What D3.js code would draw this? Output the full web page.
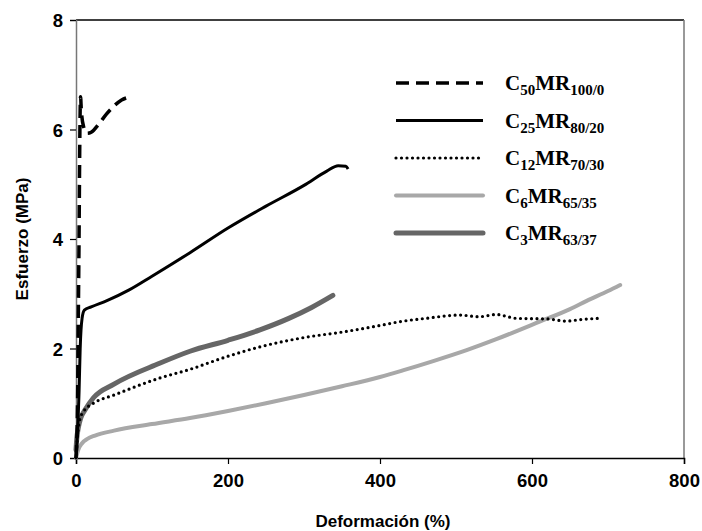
<!DOCTYPE html>
<html><head><meta charset="utf-8">
<script src="https://cdn.jsdelivr.net/npm/d3@7"></script>
<style>body{margin:0;background:#fff}svg{display:block}</style>
</head><body>
<svg id="c" width="702" height="531"></svg>
<script>
const xTicks = [0, 200, 400, 600, 800];
const yTicks = [0, 2, 4, 6, 8];
const xTitle = "Deformación (%)";
const yTitle = "Esfuerzo (MPa)";

const c50 = [[0,0],[2,1],[3,2.5],[4,4],[4.8,5.5],[5.3,6.2],[6,6.6],[7,6.35],[10,6.05],[15,5.93],[20,5.95],[30,6.1],[40,6.28],[50,6.43],[60,6.54],[67,6.58]];
const c25 = [[0,0],[2,0.5],[4,1.2],[5.5,2.0],[8,2.55],[11,2.7],[20,2.76],[40,2.87],[70,3.07],[100,3.32],[150,3.75],[200,4.2],[250,4.6],[300,4.98],[330,5.24],[345,5.34],[355,5.33],[358,5.28]];
const c12 = [[0,0],[2,0.4],[5,0.7],[10,0.85],[23,1.0],[50,1.15],[110,1.46],[150,1.62],[198,1.85],[242,2.03],[300,2.2],[350,2.3],[400,2.42],[426,2.49],[460,2.55],[505,2.61],[530,2.58],[553,2.62],[580,2.55],[620,2.54],[645,2.5],[665,2.53],[687,2.55]];
const c6 = [[0,0],[3,0.15],[8,0.27],[15,0.35],[25,0.41],[50,0.5],[100,0.62],[150,0.73],[200,0.86],[250,1.0],[300,1.15],[350,1.31],[400,1.48],[430,1.6],[470,1.77],[514,1.97],[553,2.17],[610,2.49],[650,2.72],[672,2.87],[700,3.05],[716,3.16]];
const c3 = [[0,0.15],[1,0.35],[3,0.55],[6,0.72],[12,0.88],[23,1.1],[50,1.35],[110,1.73],[150,1.95],[200,2.15],[242,2.34],[280,2.55],[310,2.75],[338,2.97]];

const seriesNames = [["C","50","MR","100/0"],["C","25","MR","80/20"],["C","12","MR","70/30"],["C","6","MR","65/35"],["C","3","MR","63/37"]];
const seriesData = [c50, c25, c12, c6, c3];
const seriesStyle = [
  {color:"#000", width:3.5, dash:"13,7", cap:"butt"},
  {color:"#000", width:3, dash:null, cap:"butt"},
  {color:"#000", width:3.2, dash:"0,5.5", cap:"round"},
  {color:"#a8a8a8", width:4, dash:null, cap:"round"},
  {color:"#666", width:5, dash:null, cap:"round"}
];

const L = 76, R = 684, T = 20, B = 458;
const x = d3.scaleLinear().domain([0, 800]).range([L, R]);
const y = d3.scaleLinear().domain([0, 8]).range([B, T]);
const svg = d3.select("#c");

// frame
svg.append("line").attr("x1",L).attr("x2",R).attr("y1",T).attr("y2",T).attr("stroke","#000").attr("stroke-width",1.5);
svg.append("line").attr("x1",R).attr("x2",R).attr("y1",T).attr("y2",B).attr("stroke","#777").attr("stroke-width",1.5);

const gx = svg.append("g").attr("transform",`translate(0,${B})`)
  .call(d3.axisBottom(x).tickValues(xTicks).tickSize(6).tickPadding(10).tickFormat(d3.format("d")));
const gy = svg.append("g").attr("transform",`translate(${L},0)`)
  .call(d3.axisLeft(y).tickValues(yTicks).tickSize(6).tickPadding(7).tickFormat(d3.format("d")));
gx.select(".domain").attr("stroke","#000").attr("stroke-width",1.5);
gy.select(".domain").attr("stroke","#777").attr("stroke-width",1.5);
[gx, gy].forEach(g => {
  g.selectAll(".tick line").attr("stroke","#000").attr("stroke-width",1.2);
  g.selectAll(".tick text").attr("font-family","Liberation Sans, Arial, sans-serif").attr("font-weight","bold").attr("font-size",18.5).attr("fill","#000");
});
gy.selectAll(".tick text").attr("dy","0.36em");

svg.append("text").attr("x",383).attr("y",527).attr("text-anchor","middle")
  .attr("font-family","Liberation Sans, Arial, sans-serif").attr("font-weight","bold").attr("font-size",17).text(xTitle);
svg.append("text").attr("transform",`translate(28,${(T+B)/2}) rotate(-90)`).attr("text-anchor","middle")
  .attr("font-family","Liberation Sans, Arial, sans-serif").attr("font-weight","bold").attr("font-size",17).text(yTitle);

const line = d3.line().x(d => x(d[0])).y(d => y(d[1])).curve(d3.curveMonotoneX);
const order = [3, 4, 2, 1, 0];
order.forEach(i => {
  const s = seriesStyle[i];
  svg.append("path").datum(seriesData[i]).attr("d", line).attr("fill","none")
    .attr("stroke", s.color).attr("stroke-width", s.width).attr("stroke-linecap", s.cap)
    .attr("stroke-linejoin","round").attr("stroke-dasharray", s.dash);
});

// legend
const lg = svg.append("g");
seriesNames.forEach((n, i) => {
  const s = seriesStyle[i];
  const yy = 83 + i * 37.5;
  lg.append("line").attr("x1",396).attr("x2",483).attr("y1",yy).attr("y2",yy)
    .attr("stroke", s.color).attr("stroke-width", s.width).attr("stroke-linecap", s.cap)
    .attr("stroke-dasharray", s.dash);
  const t = lg.append("text").attr("x",505).attr("y",yy+7)
    .attr("font-family","Liberation Serif, Times New Roman, serif").attr("font-weight","bold").attr("font-size",21);
  t.append("tspan").text(n[0]);
  t.append("tspan").attr("font-size",15).attr("dy",5).text(n[1]);
  t.append("tspan").attr("dy",-5).text(n[2]);
  t.append("tspan").attr("font-size",15).attr("dy",5).text(n[3]);
});
</script>
</body></html>
